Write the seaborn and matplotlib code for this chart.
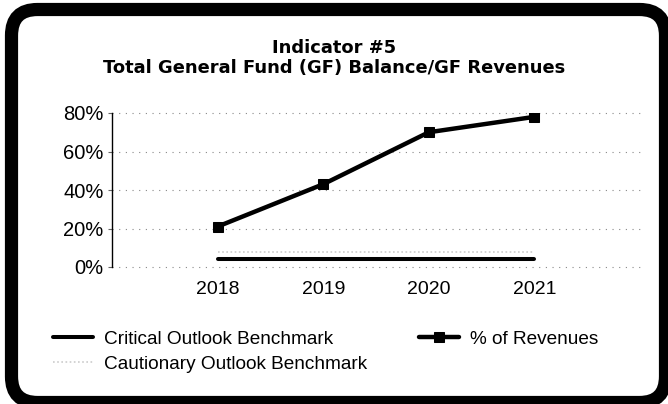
import matplotlib
matplotlib.use('Agg')
import matplotlib.pyplot as plt
from matplotlib.patches import FancyBboxPatch
from matplotlib.transforms import IdentityTransform
from matplotlib.ticker import PercentFormatter
import seaborn as sns
import pandas as pd

# data
years = [2018, 2019, 2020, 2021]
pct_revenues = [21, 43, 70, 78]
critical_benchmark = [4, 4, 4, 4]
cautionary_benchmark = [8, 8, 8, 8]
y_ticks = [0, 20, 40, 60, 80]

df = pd.DataFrame({'year': years, 'pct': pct_revenues,
                   'critical': critical_benchmark, 'cautionary': cautionary_benchmark})

sns.set_style('white')
plt.rcParams['font.family'] = ['Liberation Sans', 'DejaVu Sans']
plt.rcParams['text.color'] = 'black'
plt.rcParams['xtick.color'] = 'black'
plt.rcParams['ytick.color'] = 'black'

fig = plt.figure(figsize=(6.68, 4.04), dpi=100)
ax = fig.add_axes([112 / 668, 137 / 404, 528 / 668, 154 / 404])

sns.lineplot(data=df, x='year', y='critical', ax=ax, color='black', lw=2.9,
             label='Critical Outlook Benchmark')
sns.lineplot(data=df, x='year', y='cautionary', ax=ax, color='#cccccc', lw=1.2,
             linestyle=(0, (1, 1.5)), label='Cautionary Outlook Benchmark')
sns.lineplot(data=df, x='year', y='pct', ax=ax, color='black', lw=3.2,
             marker='s', markersize=7.5, markeredgecolor='black',
             label='% of Revenues')

ax.set_xlim(2017, 2022)
ax.set_ylim(0, 80)
ax.set_xticks(years)
ax.set_xticklabels([str(y) for y in years], fontsize=14)
ax.set_yticks(y_ticks)
ax.yaxis.set_major_formatter(PercentFormatter(xmax=100, decimals=0))
ax.tick_params(axis='y', left=True, labelsize=14.5, length=3, width=0.8,
               color='#666666', labelcolor='black', pad=3)
ax.tick_params(axis='x', bottom=False, length=0, pad=10, labelcolor='black')
ax.set_xlabel('')
ax.set_ylabel('')

# dotted gridlines, including the 0% baseline
ax.yaxis.grid(True, color='#888888', lw=0.8, linestyle=(0, (1, 5)))
for gl in ax.get_ygridlines():
    gl.set_clip_on(False)
ax.set_axisbelow(True)
for side in ['top', 'right', 'bottom']:
    ax.spines[side].set_visible(False)
ax.spines['left'].set_color('black')
ax.spines['left'].set_linewidth(1.0)

# legend below the plot, two columns
handles, labels = ax.get_legend_handles_labels()
ax.get_legend().remove()
fig.legend(handles, labels, ncol=2, frameon=False, fontsize=13.7,
           loc='center left', bbox_to_anchor=(53 / 668, 1 - 351.5 / 404),
           borderpad=0, borderaxespad=0, handlelength=2.1, handletextpad=0.6,
           columnspacing=2.7, labelspacing=0.42, labelcolor='black')

fig.text(334 / 668, 1 - 58 / 404,
         'Indicator #5\nTotal General Fund (GF) Balance/GF Revenues',
         ha='center', va='center', fontsize=12.9, fontweight='bold',
         family='DejaVu Sans', linespacing=1.15, color='black')

# rounded black frame around the whole chart
frame = FancyBboxPatch((11.5, 1.5), 654, 393, boxstyle='round,pad=0,rounding_size=26',
                       transform=IdentityTransform(), facecolor='none',
                       edgecolor='black', lw=9.5)
fig.patches.append(frame)

fig.savefig('out.png', dpi=100)
